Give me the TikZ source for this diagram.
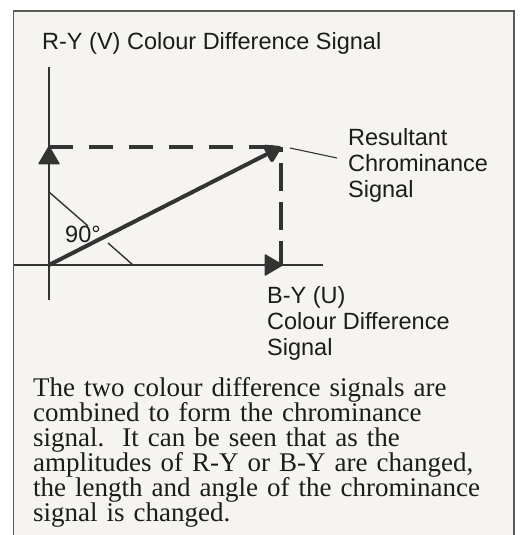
\documentclass[tikz,border=0pt]{standalone}
\usepackage{fontspec}
\setmainfont{Liberation Serif}
\newfontfamily\labelfont{Liberation Sans}
\usetikzlibrary{arrows.meta}
\definecolor{ink}{HTML}{1C1C1C}
\definecolor{lineclr}{HTML}{333333}
\definecolor{paper}{HTML}{F6F4F1}
\definecolor{framec}{HTML}{5A5A5A}
\tikzset{
  lbl/.style={font={\labelfont\fontsize{23.5}{26}\selectfont}, text=ink, inner sep=0pt, align=left},
  body/.style={font={\fontsize{27}{25}\selectfont\lineskiplimit=-20pt}, text=ink, inner sep=0pt, align=left, text width=480pt},
  axisline/.style={draw=lineclr, line width=1.4pt},
  dashline/.style={draw=lineclr, line width=3.5pt},
  bigtip/.style={-{Triangle[length=19pt,width=22pt,round]}},
}
\begin{document}
\begin{tikzpicture}[x=1pt,y=-1pt]
\useasboundingbox (0,0) rectangle (519,535);
\fill[white] (0,0) rectangle (519,535);
\fill[paper] (13.5,11) rectangle (514,535);
\draw[framec, line width=1.3pt] (13.5,535) -- (13.5,11) -- (514,11) -- (514,535);
% coordinates
\coordinate (O) at (49,265);
\coordinate (Vt) at (49,146);
\coordinate (C) at (281,147);
\coordinate (Ut) at (283,265);
\coordinate (Vtop) at (49,67);
\coordinate (Vbot) at (49,300);
\coordinate (Hl) at (14,265);
\coordinate (Hr) at (323,265);
\coordinate (A1) at (49,192);
\coordinate (A2) at (88,226);
\coordinate (A3) at (108,243);
\coordinate (A4) at (133,265);
\coordinate (L1) at (290,148);
\coordinate (L2) at (337,158);
% axes
\draw[axisline] (Vtop) -- (Vbot);
\draw[axisline] (Hl) -- (Hr);
% angle marker
\draw[axisline] (A1) -- (A2);
\draw[axisline] (A3) -- (A4);
% dashed projections
\draw[dashline, dash pattern=on 24pt off 16pt] (Vt |- C) -- (C);
\draw[dashline, dash pattern=on 28pt off 11pt, dash phase=23pt] (C) -- (O -| C);
% component arrows
\draw[axisline, fill=lineclr, bigtip] (O) -- (Vt);
\draw[axisline, fill=lineclr, bigtip] (O) -- (Ut);
% resultant
\draw[draw=lineclr, fill=lineclr, line width=4pt, -{Triangle[length=18pt,width=21pt,round]}] (O) -- (C);
% leader
\draw[draw=lineclr, line width=1.1pt] (L1) -- (L2);
% labels
\node[lbl, anchor=base west] (title) at (42,49) {R-Y (V) Colour Difference Signal};
\node[lbl, anchor=base west] (res1) at (348,145) {Resultant};
\node[lbl, anchor=base west] (res2) at (348,171) {Chrominance};
\node[lbl, anchor=base west] (res3) at (348,197) {Signal};
\node[lbl, anchor=base west] (by1) at (267,303) {B-Y (U)};
\node[lbl, anchor=base west] (by2) at (267,329) {Colour Difference};
\node[lbl, anchor=base west] (by3) at (267,355) {Signal};
\node[lbl, anchor=base west] (ang) at (65,242) {90\textdegree};
\node[body, anchor=base west] (txt) at (33,396) {The two colour difference signals are\\
combined to form the chrominance\\
signal.\ \ It can be seen that as the\\
amplitudes of R-Y or B-Y are changed,\\
the length and angle of the chrominance\\
signal is changed.};
\end{tikzpicture}
\end{document}
